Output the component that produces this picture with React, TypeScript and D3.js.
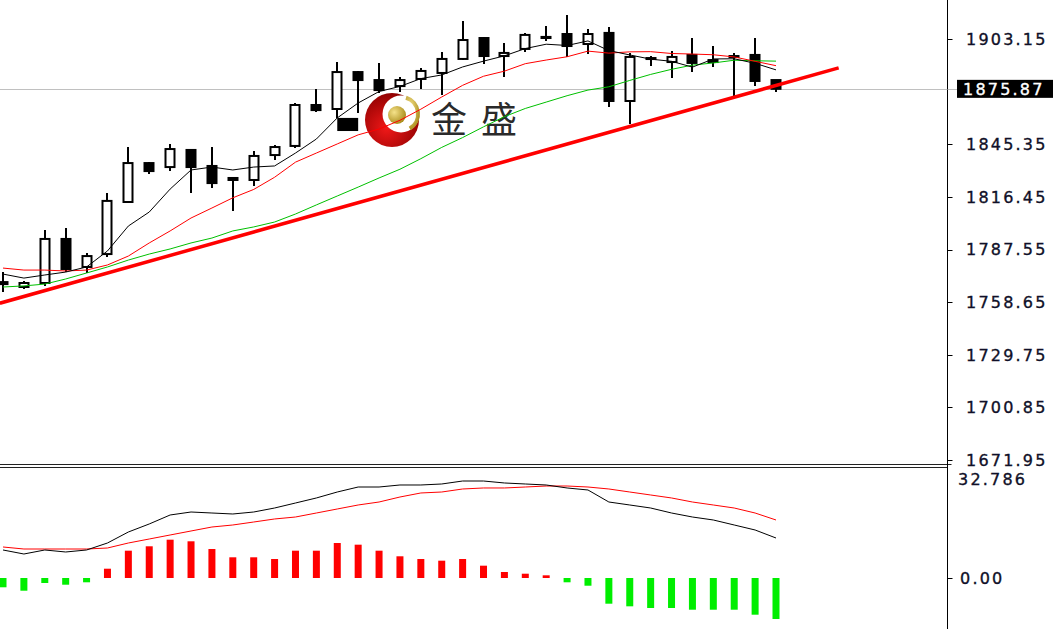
import React from 'react';
import * as d3 from 'd3';

const W = 1053;
const H = 629;

// ---- candle data (index 0..37) ----
const opens = [1768.6, 1767.0, 1769.2, 1793.4, 1778.0, 1785.1, 1813.7, 1835.1, 1832.9, 1842.3, 1833.5, 1826.9, 1825.8, 1839.5, 1844.5, 1867.0, 1864.8, 1885.1, 1880.7, 1877.4, 1881.3, 1884.6, 1892.3, 1903.8, 1893.9, 1897.8, 1903.8, 1906.0, 1900.5, 1906.6, 1869.2, 1892.3, 1890.6, 1894.5, 1890.6, 1893.4, 1894.5, 1880.7];
const highs = [1775.2, 1770.3, 1798.3, 1799.4, 1785.7, 1818.6, 1843.9, 1835.7, 1845.6, 1842.8, 1843.9, 1827.4, 1841.7, 1845.0, 1868.1, 1875.8, 1890.6, 1885.7, 1890.1, 1882.4, 1887.3, 1896.1, 1913.1, 1904.4, 1901.1, 1906.6, 1910.4, 1916.4, 1908.8, 1909.8, 1895.6, 1893.9, 1896.7, 1903.8, 1899.4, 1895.6, 1903.8, 1880.7];
const lows = [1764.3, 1765.9, 1767.5, 1775.2, 1774.7, 1783.5, 1813.2, 1829.1, 1830.7, 1818.6, 1821.4, 1808.8, 1822.5, 1836.8, 1843.4, 1863.1, 1859.9, 1862.6, 1873.6, 1874.1, 1875.8, 1872.5, 1891.7, 1889.5, 1882.4, 1896.1, 1902.2, 1893.4, 1895.0, 1865.9, 1856.6, 1888.4, 1881.8, 1885.1, 1887.9, 1870.8, 1877.4, 1874.1];
const closes = [1769.7, 1769.2, 1793.4, 1776.9, 1784.0, 1814.3, 1835.1, 1830.7, 1842.8, 1832.9, 1824.1, 1825.8, 1839.0, 1843.9, 1867.0, 1864.2, 1885.1, 1880.7, 1875.2, 1880.7, 1885.7, 1892.3, 1902.7, 1893.9, 1895.6, 1905.5, 1904.4, 1899.4, 1906.0, 1869.2, 1893.4, 1892.8, 1893.4, 1890.1, 1891.7, 1893.9, 1880.2, 1875.87];

// ---- moving averages ----
const maFast = [1774.1, 1771.9, 1773.6, 1775.2, 1778.0, 1786.8, 1800.5, 1808.2, 1820.8, 1831.3, 1832.9, 1831.3, 1832.9, 1833.5, 1840.6, 1848.3, 1859.9, 1868.1, 1874.4, 1877.2, 1881.5, 1883.5, 1887.9, 1891.1, 1894.0, 1898.0, 1900.4, 1899.7, 1902.2, 1896.9, 1894.5, 1892.2, 1891.0, 1887.8, 1892.3, 1892.4, 1889.9, 1886.3];
const maMid = [1777.4, 1776.3, 1776.3, 1775.8, 1776.3, 1779.1, 1784.0, 1791.2, 1797.8, 1804.9, 1810.4, 1816.0, 1820.6, 1827.3, 1835.6, 1840.6, 1845.6, 1850.6, 1853.8, 1858.6, 1864.7, 1871.4, 1877.8, 1882.8, 1885.6, 1889.7, 1891.7, 1893.5, 1896.6, 1895.5, 1896.2, 1896.3, 1895.3, 1895.0, 1894.6, 1893.4, 1891.0, 1888.6];
const maSlow = [1767.0, 1767.6, 1768.6, 1771.4, 1774.7, 1778.0, 1781.8, 1785.1, 1787.9, 1791.2, 1793.9, 1797.8, 1800.0, 1802.7, 1807.1, 1812.1, 1817.0, 1821.9, 1826.9, 1831.7, 1837.5, 1843.7, 1849.1, 1855.0, 1860.6, 1865.1, 1868.6, 1872.1, 1875.2, 1877.0, 1880.5, 1883.8, 1886.6, 1888.9, 1890.1, 1891.6, 1891.3, 1891.1];

// ---- trend line (index, price) ----
const trendIdx = [-0.15, 40];
const trendPrice = [1758.1, 1887.4];

// ---- marker box (index span, price span) ----
const boxIdx = [16, 17];
const boxPrice = [1852.7, 1859.9];

// ---- MACD ----
const macdMain = [8.35, 7.15, 8.35, 7.75, 8.35, 10.43, 13.71, 16.1, 18.78, 19.67, 19.37, 19.08, 19.67, 20.86, 22.35, 23.85, 25.63, 27.12, 27.12, 27.72, 27.72, 28.02, 28.91, 28.91, 28.32, 28.02, 27.72, 26.83, 26.23, 22.65, 21.76, 20.86, 19.37, 18.18, 17.29, 15.8, 14.31, 11.92];
const macdSignal = [9.24, 8.64, 8.64, 8.64, 8.64, 8.94, 10.43, 11.62, 12.82, 14.01, 15.2, 15.8, 16.69, 17.59, 18.18, 19.37, 20.57, 21.76, 22.65, 24.14, 25.34, 25.63, 26.53, 26.83, 26.83, 27.12, 27.42, 27.42, 27.12, 26.53, 25.63, 24.74, 23.85, 22.65, 21.76, 20.86, 19.37, 17.29];
const macdHist = [-2.77, -3.79, -1.49, -2.0, -1.28, 2.77, 8.14, 9.45, 11.42, 10.94, 8.64, 6.17, 6.17, 5.66, 8.14, 8.14, 10.43, 9.93, 8.14, 6.47, 5.66, 5.16, 5.66, 3.67, 1.79, 1.28, 0.8, -1.28, -2.3, -7.66, -8.44, -8.94, -8.94, -9.45, -9.45, -9.45, -10.94, -12.22];

// ---- axis ----
const priceTicks = [1903.15, 1845.35, 1816.45, 1787.55, 1758.65, 1729.75, 1700.85, 1671.95];
const lastPrice = 1875.87;
const macdMax = 32.786;
const macdTicks = [0];

const AXIS_X = 947.5;
const FONT = '"DejaVu Sans", Verdana, sans-serif';

export default function App() {
  const idx = d3.range(closes.length);
  const x = d3.scaleLinear().domain([0, 37]).range([3, 776]);
  const y = d3.scaleLinear().domain([1671.95, 1903.15]).range([460, 39.2]);
  const ym = d3.scaleLinear().domain([0, macdMax]).range([578, 468]);

  const lineP = (arr: number[]) =>
    d3.line<number>().x((_, i) => x(i)).y((v) => y(v))(arr) || '';
  const lineM = (arr: number[]) =>
    d3.line<number>().x((_, i) => x(i)).y((v) => ym(v))(arr) || '';

  const bodyW = 9;
  const barW = 7;

  const labelStyle = { fontFamily: FONT, fontSize: 16, letterSpacing: 2.2, fill: '#101028', stroke: '#101028', strokeWidth: 0.35 } as const;

  return (
    <svg width={W} height={H} style={{ position: 'fixed', left: 0, top: 0, background: '#fff' }}>
      <defs>
        <radialGradient id="redg" cx="40%" cy="65%" r="70%">
          <stop offset="0%" stopColor="#f01818" />
          <stop offset="100%" stopColor="#8a0000" />
        </radialGradient>
        <radialGradient id="goldg" cx="35%" cy="35%" r="70%">
          <stop offset="0%" stopColor="#f5e28a" />
          <stop offset="100%" stopColor="#a88a18" />
        </radialGradient>
        <clipPath id="mainClip">
          <rect x={0} y={0} width={AXIS_X} height={463} />
        </clipPath>
        <clipPath id="subClip">
          <rect x={0} y={468} width={AXIS_X} height={161} />
        </clipPath>
      </defs>
      <rect x={0} y={0} width={W} height={H} fill="#fff" />

      {/* current price line */}
      <line x1={0} x2={AXIS_X} y1={Math.round(y(lastPrice)) + 0.5} y2={Math.round(y(lastPrice)) + 0.5} stroke="#c0c0c0" strokeWidth={1} />

      {/* watermark */}
      <g>
        <circle cx={392} cy={120} r={27} fill="url(#redg)" />
        <circle cx={401} cy={114} r={18.5} fill="#fff" />
        <path d={d3.arc()({ innerRadius: 15, outerRadius: 19, startAngle: 0.3, endAngle: 2.6 }) || ''} transform="translate(401,114)" fill="url(#goldg)" />
        <circle cx={397} cy={115} r={9} fill="url(#goldg)" />
        <text x={431} y={133} fontFamily='"Noto Sans CJK SC", sans-serif' fontSize={36} fill="#2a2a2a">金</text>
        <text x={481} y={133} fontFamily='"Noto Sans CJK SC", sans-serif' fontSize={36} fill="#2a2a2a">盛</text>
      </g>

      <g clipPath="url(#mainClip)">
        {/* candles */}
        {idx.map((i) => {
          const o = opens[i], c = closes[i];
          const up = c >= o;
          const top = y(Math.max(o, c));
          const bot = y(Math.min(o, c));
          const cx = Math.round(x(i));
          return (
            <g key={i}>
              <line x1={cx} x2={cx} y1={y(highs[i])} y2={y(lows[i])} stroke="#000" strokeWidth={2} />
              <rect
                x={cx - bodyW / 2}
                y={top}
                width={bodyW}
                height={Math.max(bot - top, 1)}
                fill={up ? '#fff' : '#000'}
                stroke="#000"
                strokeWidth={2}
              />
            </g>
          );
        })}
        {/* marker box */}
        <rect x={x(boxIdx[0])} y={y(boxPrice[1])} width={x(boxIdx[1]) - x(boxIdx[0])} height={y(boxPrice[0]) - y(boxPrice[1])} fill="#000" />

        {/* moving averages */}
        <path d={lineP(maSlow)} fill="none" stroke="#00c000" strokeWidth={1} />
        <path d={lineP(maMid)} fill="none" stroke="#ff0000" strokeWidth={1} />
        <path d={lineP(maFast)} fill="none" stroke="#000" strokeWidth={1} />
        {/* trend line */}
        <line x1={x(trendIdx[0])} x2={x(trendIdx[1])} y1={y(trendPrice[0])} y2={y(trendPrice[1])} stroke="#ff0000" strokeWidth={3.5} />
      </g>

      {/* separator */}
      <line x1={0} x2={AXIS_X + 4} y1={464.5} y2={464.5} stroke="#222" strokeWidth={1} />
      <line x1={0} x2={AXIS_X} y1={467.5} y2={467.5} stroke="#222" strokeWidth={1} />

      {/* MACD panel */}
      <g clipPath="url(#subClip)">
        {idx.map((i) => {
          const v = macdHist[i];
          const y0 = ym(0);
          const y1 = ym(v);
          return (
            <rect key={i} x={x(i) - barW / 2} y={Math.min(y0, y1)} width={barW} height={Math.abs(y1 - y0)} fill={v >= 0 ? '#ff0000' : '#00ee00'} />
          );
        })}
        <path d={lineM(macdSignal)} fill="none" stroke="#ff0000" strokeWidth={1} />
        <path d={lineM(macdMain)} fill="none" stroke="#000" strokeWidth={1} />
      </g>

      {/* axis line */}
      <line x1={AXIS_X} x2={AXIS_X} y1={0} y2={H} stroke="#000" strokeWidth={1} />

      {/* price ticks */}
      {priceTicks.map((t) => (
        <g key={t}>
          <line x1={AXIS_X} x2={AXIS_X + 5} y1={Math.round(y(t)) + 0.5} y2={Math.round(y(t)) + 0.5} stroke="#000" />
          <text x={966} y={y(t)} dy="0.36em" style={labelStyle}>{t.toFixed(2)}</text>
        </g>
      ))}
      {/* last price label */}
      <line x1={AXIS_X} x2={AXIS_X + 10} y1={Math.round(y(lastPrice)) + 0.5} y2={Math.round(y(lastPrice)) + 0.5} stroke="#c0c0c0" />
      <rect x={957} y={y(lastPrice) - 9} width={W - 957} height={18} fill="#000" />
      <text x={963} y={y(lastPrice)} dy="0.36em" style={{ ...labelStyle, fill: '#fff', stroke: '#fff' }}>{lastPrice.toFixed(2)}</text>

      {/* MACD labels */}
      <text x={958} y={479} dy="0.36em" style={labelStyle}>{macdMax.toFixed(3)}</text>
      {macdTicks.map((t) => (
        <g key={t}>
          <line x1={AXIS_X} x2={AXIS_X + 5} y1={Math.round(ym(t)) + 0.5} y2={Math.round(ym(t)) + 0.5} stroke="#000" />
          <text x={960} y={ym(t)} dy="0.36em" style={labelStyle}>{t.toFixed(2)}</text>
        </g>
      ))}
    </svg>
  );
}
